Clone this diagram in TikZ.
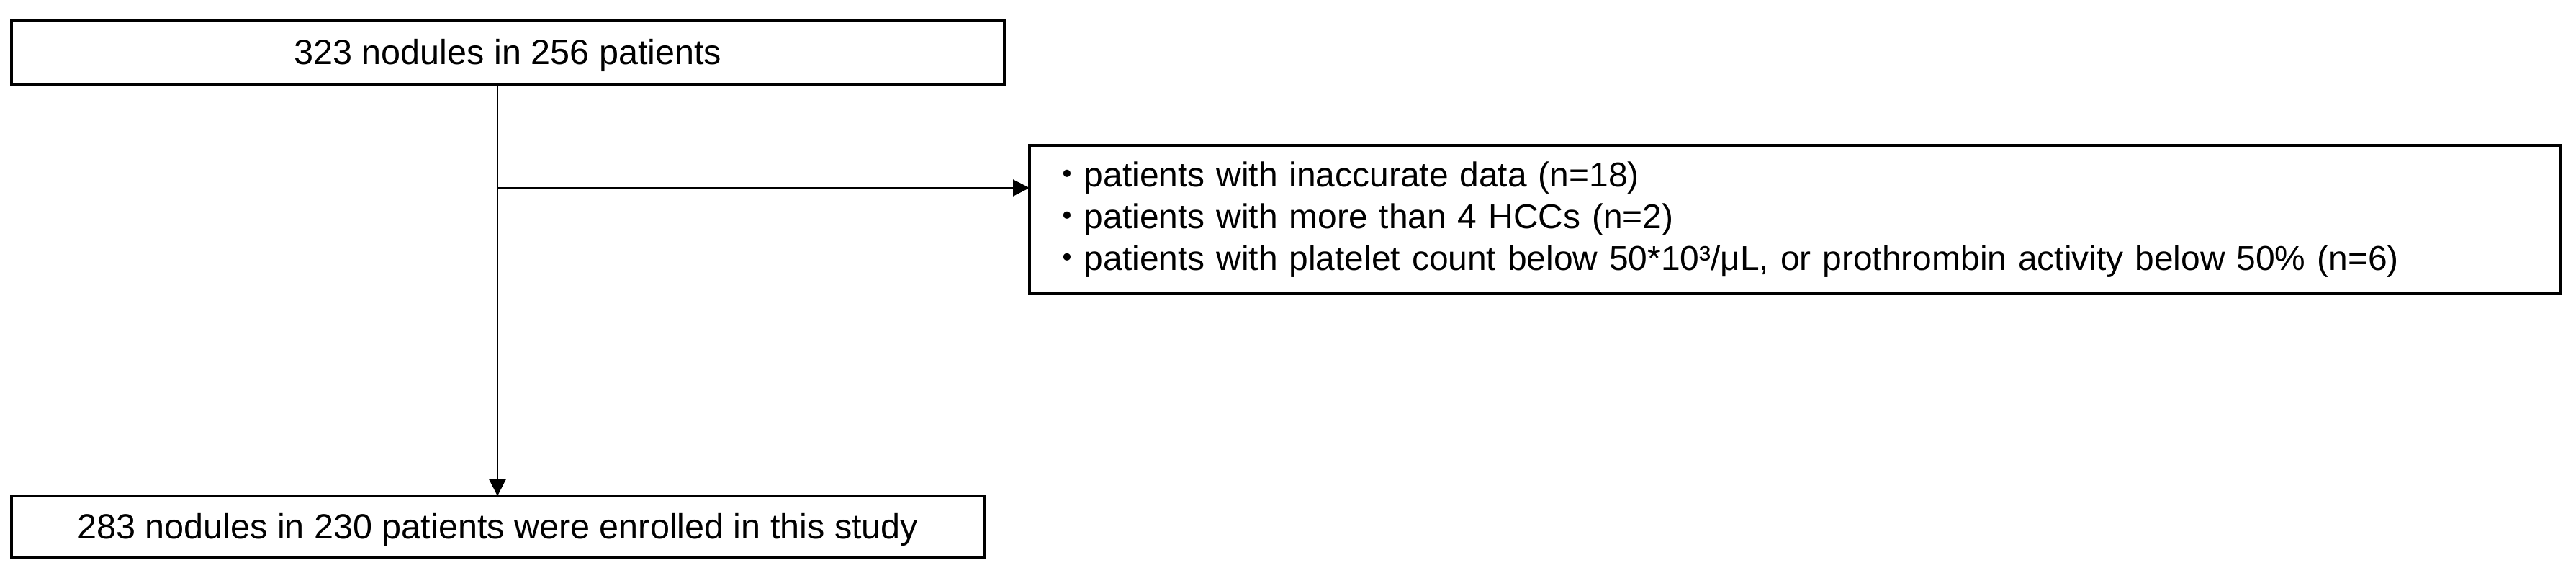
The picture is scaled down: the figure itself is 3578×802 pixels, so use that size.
\documentclass[tikz,border=0pt]{standalone}
\usepackage{fontspec}
\setmainfont{Liberation Sans}
\newfontfamily\cjk{Noto Sans CJK JP}
\usetikzlibrary{arrows.meta}
\newcommand{\bul}{\smash{\cjk ・}}
\begin{document}
\begin{tikzpicture}[x=0.01cm,y=-0.01cm,
  box/.style={draw=black, line width=1pt, rectangle, inner sep=0pt, outer sep=0pt,
    font=\fontsize{13.8pt}{16.5pt}\selectfont},
  single/.style={text height=12.49pt, text depth=2.93pt},
  listfont/.style={font=\fontsize{13.62pt}{16.5pt}\selectfont},
  flow/.style={line width=0.6pt, draw=black},
  tip/.style={-{Triangle[length=0.23cm,width=0.23cm]}}]
\useasboundingbox (0,0) rectangle (3578,802);
\node[box, single, minimum width=13.78cm, minimum height=0.88cm, anchor=north west] (top) at (16,29) {323 nodules in 256 patients};
\node[box, single, minimum width=13.50cm, minimum height=0.86cm, anchor=north west] (bottom) at (16,689) {283 nodules in 230 patients were enrolled in this study};
\node[box, listfont, text width=20.69cm, inner xsep=0.28cm, minimum height=2.06cm, align=left, anchor=north west] (excl) at (1430,202)
  {\bul patients with inaccurate data (n=18)\\
   \bul patients with more than 4 HCCs (n=2)\\
   \bul patients with platelet count below 50*10³/μL, or prothrombin activity below 50\% (n=6)};
\coordinate (j) at (691,261);
\draw[flow,tip] (top.south -| j) -- (bottom.north -| j);
\draw[flow,tip] (j) -- (j -| excl.west);
\end{tikzpicture}
\end{document}
